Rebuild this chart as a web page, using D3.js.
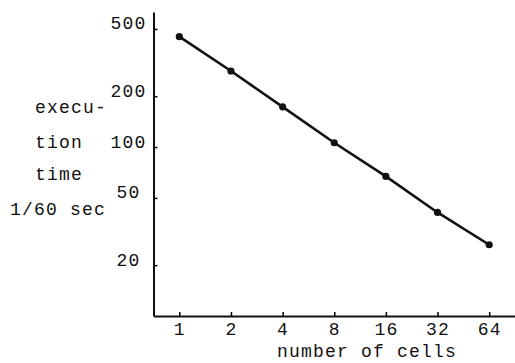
<!DOCTYPE html>
<html>
<head>
<meta charset="utf-8">
<script src="https://cdn.jsdelivr.net/npm/d3@7"></script>
<style>
  body { margin: 0; background: #fff; }
  svg text { font-family: "Liberation Mono", "DejaVu Sans Mono", monospace; font-size: 18px; letter-spacing: 1.2px; fill: #111; }
</style>
</head>
<body>
<svg id="chart"></svg>
<script>
// number of cells vs execution time (1/60 sec)
const cells = [1, 2, 4, 8, 16, 32, 64];
const execTime = [450, 282, 173, 106, 67, 41, 26.4];
const yTicks = [20, 50, 100, 200, 500];
const yLabel = ["execu-", "tion", "time", "1/60 sec"];

const width = 515, height = 363;
const svg = d3.select("#chart").attr("width", width).attr("height", height);

const x = d3.scaleLog().base(2)
  .domain([Math.pow(2, -0.5), Math.pow(2, 6.5)])
  .range([153.5, 515]);

const y = d3.scaleLog()
  .domain([10, 630])
  .range([316, 12]);

// y axis
const gy = svg.append("g")
  .attr("transform", `translate(${x.range()[0]},0)`)
  .call(d3.axisLeft(y).tickValues(yTicks).tickFormat(d3.format("d")).tickSize(-4).tickSizeOuter(0));
gy.select(".domain").attr("stroke-width", 2);
gy.selectAll(".tick line").attr("stroke-width", 1.5);
gy.selectAll(".tick text")
  .attr("x", -25).attr("dy", 0)
  .attr("text-anchor", "middle")
  .attr("font-size", null).attr("font-family", null);

// x axis
const gx = svg.append("g")
  .attr("transform", `translate(0,${y.range()[0]})`)
  .call(d3.axisBottom(x).tickValues(cells).tickFormat(d3.format("d")).tickSize(-4).tickSizeOuter(0));
gx.select(".domain").attr("stroke-width", 2);
gx.selectAll(".tick line").attr("stroke-width", 1.5);
gx.selectAll(".tick text")
  .attr("y", 19).attr("dy", 0)
  .attr("font-size", null).attr("font-family", null);

svg.selectAll(".domain").attr("stroke", "#111");

// axis titles
svg.append("text")
  .attr("x", 367).attr("y", 357)
  .attr("text-anchor", "middle")
  .text("number of cells");

svg.selectAll(".ylab")
  .data(yLabel)
  .join("text")
  .attr("class", "ylab")
  .attr("x", (d, i) => i === 3 ? 10 : 35)
  .attr("y", (d, i) => [113, 148, 180, 215][i])
  .text(d => d);

// series
const line = d3.line()
  .x((d, i) => x(cells[i]))
  .y(d => y(d));

svg.append("path")
  .datum(execTime)
  .attr("fill", "none")
  .attr("stroke", "#111")
  .attr("stroke-width", 2.6)
  .attr("d", line);

svg.selectAll(".dot")
  .data(execTime)
  .join("circle")
  .attr("class", "dot")
  .attr("r", 3.6)
  .attr("cx", (d, i) => x(cells[i]))
  .attr("cy", d => y(d))
  .attr("fill", "#111");
</script>
</body>
</html>
